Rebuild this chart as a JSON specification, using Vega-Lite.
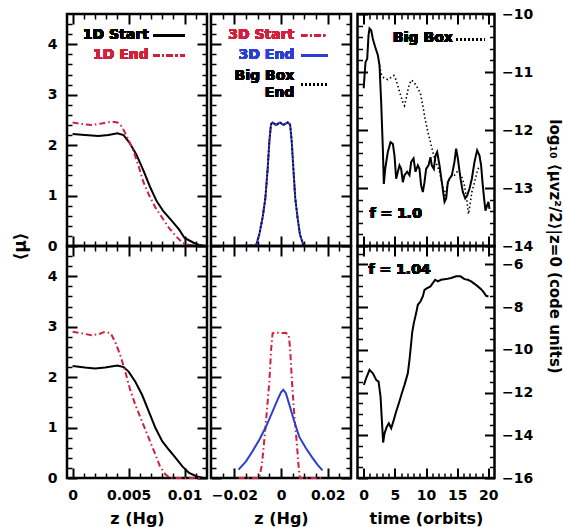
{
"$schema": "https://vega.github.io/schema/vega-lite/v6.json",
"padding": {"left": 9, "top": 5, "right": 5, "bottom": 5},
"background": "white",
"config": {
  "view": {"stroke": "black", "strokeWidth": 2.5},
  "axis": {"grid": false, "domain": false, "tickColor": "black", "tickWidth": 2, "labelColor": "black", "labelFont": "DejaVu Sans", "labelFontSize": 14, "labelFontWeight": "bold", "labelFlush": false, "labelOverlap": false, "titleFont": "DejaVu Sans", "titleFontSize": 16, "titleFontWeight": "bold", "titleColor": "black"},
  "text": {"font": "DejaVu Sans", "fontSize": 14, "fontWeight": "bold"}
},
"datasets": {"c": [
{"p":"TL","s":"1D Start","x":0,"y":2.22},{"p":"TL","s":"1D Start","x":0.0011,"y":2.2},{"p":"TL","s":"1D Start","x":0.0023,"y":2.18},{"p":"TL","s":"1D Start","x":0.0032,"y":2.2},{"p":"TL","s":"1D Start","x":0.004,"y":2.235},{"p":"TL","s":"1D Start","x":0.00455,"y":2.2},{"p":"TL","s":"1D Start","x":0.0051,"y":2.04},{"p":"TL","s":"1D Start","x":0.0057,"y":1.81},{"p":"TL","s":"1D Start","x":0.0063,"y":1.51},{"p":"TL","s":"1D Start","x":0.0069,"y":1.18},{"p":"TL","s":"1D Start","x":0.0075,"y":0.89},{"p":"TL","s":"1D Start","x":0.0081,"y":0.69},{"p":"TL","s":"1D Start","x":0.0089,"y":0.49},{"p":"TL","s":"1D Start","x":0.0095,"y":0.33},{"p":"TL","s":"1D Start","x":0.01,"y":0.16},{"p":"TL","s":"1D Start","x":0.0108,"y":0.065},{"p":"TL","s":"1D Start","x":0.0113,"y":0.02},{"p":"TL","s":"1D Start","x":0.0118,"y":0},
{"p":"TL","s":"1D End","x":0,"y":2.45},{"p":"TL","s":"1D End","x":0.0008,"y":2.42},{"p":"TL","s":"1D End","x":0.0017,"y":2.4},{"p":"TL","s":"1D End","x":0.0026,"y":2.43},{"p":"TL","s":"1D End","x":0.0035,"y":2.465},{"p":"TL","s":"1D End","x":0.004,"y":2.45},{"p":"TL","s":"1D End","x":0.0044,"y":2.37},{"p":"TL","s":"1D End","x":0.005,"y":2.1},{"p":"TL","s":"1D End","x":0.00545,"y":1.87},{"p":"TL","s":"1D End","x":0.0059,"y":1.58},{"p":"TL","s":"1D End","x":0.0063,"y":1.28},{"p":"TL","s":"1D End","x":0.0068,"y":1.02},{"p":"TL","s":"1D End","x":0.0074,"y":0.76},{"p":"TL","s":"1D End","x":0.008,"y":0.56},{"p":"TL","s":"1D End","x":0.0086,"y":0.36},{"p":"TL","s":"1D End","x":0.0092,"y":0.2},{"p":"TL","s":"1D End","x":0.0098,"y":0.065},{"p":"TL","s":"1D End","x":0.0104,"y":0.02},{"p":"TL","s":"1D End","x":0.0112,"y":0},{"p":"TL","s":"1D End","x":0.0118,"y":0},
{"p":"BL","s":"1D Start","x":0,"y":2.22},{"p":"BL","s":"1D Start","x":0.0011,"y":2.19},{"p":"BL","s":"1D Start","x":0.002,"y":2.17},{"p":"BL","s":"1D Start","x":0.0029,"y":2.19},{"p":"BL","s":"1D Start","x":0.004,"y":2.23},{"p":"BL","s":"1D Start","x":0.00455,"y":2.2},{"p":"BL","s":"1D Start","x":0.005,"y":2.11},{"p":"BL","s":"1D Start","x":0.0056,"y":1.91},{"p":"BL","s":"1D Start","x":0.0062,"y":1.65},{"p":"BL","s":"1D Start","x":0.0068,"y":1.32},{"p":"BL","s":"1D Start","x":0.0074,"y":0.99},{"p":"BL","s":"1D Start","x":0.008,"y":0.73},{"p":"BL","s":"1D Start","x":0.0086,"y":0.56},{"p":"BL","s":"1D Start","x":0.0092,"y":0.4},{"p":"BL","s":"1D Start","x":0.0098,"y":0.23},{"p":"BL","s":"1D Start","x":0.0104,"y":0.1},{"p":"BL","s":"1D Start","x":0.0111,"y":0.03},{"p":"BL","s":"1D Start","x":0.0117,"y":0},
{"p":"BL","s":"1D End","x":0,"y":2.9},{"p":"BL","s":"1D End","x":0.0008,"y":2.87},{"p":"BL","s":"1D End","x":0.0017,"y":2.83},{"p":"BL","s":"1D End","x":0.0023,"y":2.85},{"p":"BL","s":"1D End","x":0.0029,"y":2.9},{"p":"BL","s":"1D End","x":0.0034,"y":2.87},{"p":"BL","s":"1D End","x":0.0038,"y":2.7},{"p":"BL","s":"1D End","x":0.00425,"y":2.44},{"p":"BL","s":"1D End","x":0.0047,"y":2.11},{"p":"BL","s":"1D End","x":0.0051,"y":1.78},{"p":"BL","s":"1D End","x":0.0056,"y":1.45},{"p":"BL","s":"1D End","x":0.0062,"y":1.12},{"p":"BL","s":"1D End","x":0.0068,"y":0.79},{"p":"BL","s":"1D End","x":0.0074,"y":0.46},{"p":"BL","s":"1D End","x":0.0078,"y":0.23},{"p":"BL","s":"1D End","x":0.0083,"y":0.07},{"p":"BL","s":"1D End","x":0.0087,"y":0},{"p":"BL","s":"1D End","x":0.0115,"y":0},
{"p":"TM","s":"3D","x":-0.02,"y":0},{"p":"TM","s":"3D","x":-0.0107,"y":0.01},{"p":"TM","s":"3D","x":-0.0093,"y":0.23},{"p":"TM","s":"3D","x":-0.0079,"y":0.56},{"p":"TM","s":"3D","x":-0.0067,"y":0.95},{"p":"TM","s":"3D","x":-0.0057,"y":1.54},{"p":"TM","s":"3D","x":-0.005,"y":2.07},{"p":"TM","s":"3D","x":-0.0043,"y":2.41},{"p":"TM","s":"3D","x":-0.0036,"y":2.45},{"p":"TM","s":"3D","x":-0.0021,"y":2.4},{"p":"TM","s":"3D","x":-0.0004,"y":2.45},{"p":"TM","s":"3D","x":0.001,"y":2.4},{"p":"TM","s":"3D","x":0.0029,"y":2.45},{"p":"TM","s":"3D","x":0.0039,"y":2.41},{"p":"TM","s":"3D","x":0.0046,"y":2.07},{"p":"TM","s":"3D","x":0.0053,"y":1.54},{"p":"TM","s":"3D","x":0.0061,"y":0.95},{"p":"TM","s":"3D","x":0.0071,"y":0.56},{"p":"TM","s":"3D","x":0.0081,"y":0.23},{"p":"TM","s":"3D","x":0.0096,"y":0.02},{"p":"TM","s":"3D","x":0.0107,"y":0},{"p":"TM","s":"3D","x":0.0193,"y":0},
{"p":"BM","s":"3D Start","x":-0.0182,"y":0},{"p":"BM","s":"3D Start","x":-0.0093,"y":0},{"p":"BM","s":"3D Start","x":-0.0082,"y":0.26},{"p":"BM","s":"3D Start","x":-0.0072,"y":0.73},{"p":"BM","s":"3D Start","x":-0.0062,"y":1.25},{"p":"BM","s":"3D Start","x":-0.005,"y":1.91},{"p":"BM","s":"3D Start","x":-0.0042,"y":2.57},{"p":"BM","s":"3D Start","x":-0.0036,"y":2.87},{"p":"BM","s":"3D Start","x":-0.0021,"y":2.89},{"p":"BM","s":"3D Start","x":0,"y":2.87},{"p":"BM","s":"3D Start","x":0.0021,"y":2.88},{"p":"BM","s":"3D Start","x":0.0033,"y":2.83},{"p":"BM","s":"3D Start","x":0.0039,"y":2.57},{"p":"BM","s":"3D Start","x":0.0047,"y":1.91},{"p":"BM","s":"3D Start","x":0.0057,"y":1.25},{"p":"BM","s":"3D Start","x":0.0067,"y":0.73},{"p":"BM","s":"3D Start","x":0.0076,"y":0.2},{"p":"BM","s":"3D Start","x":0.0081,"y":0},{"p":"BM","s":"3D Start","x":0.0175,"y":0},
{"p":"BM","s":"3D End","x":-0.0182,"y":0.165},{"p":"BM","s":"3D End","x":-0.015,"y":0.33},{"p":"BM","s":"3D End","x":-0.0122,"y":0.53},{"p":"BM","s":"3D End","x":-0.0093,"y":0.76},{"p":"BM","s":"3D End","x":-0.0064,"y":1.02},{"p":"BM","s":"3D End","x":-0.0036,"y":1.32},{"p":"BM","s":"3D End","x":-0.0015,"y":1.55},{"p":"BM","s":"3D End","x":0,"y":1.7},{"p":"BM","s":"3D End","x":0.001,"y":1.75},{"p":"BM","s":"3D End","x":0.0021,"y":1.68},{"p":"BM","s":"3D End","x":0.0036,"y":1.45},{"p":"BM","s":"3D End","x":0.0057,"y":1.12},{"p":"BM","s":"3D End","x":0.0078,"y":0.82},{"p":"BM","s":"3D End","x":0.0107,"y":0.59},{"p":"BM","s":"3D End","x":0.0135,"y":0.4},{"p":"BM","s":"3D End","x":0.0157,"y":0.26},{"p":"BM","s":"3D End","x":0.0178,"y":0.15},
{"p":"TR","s":"Box","x":0,"y":-11.28},{"p":"TR","s":"Box","x":0.13,"y":-11.06},{"p":"TR","s":"Box","x":0.29,"y":-10.83},{"p":"TR","s":"Box","x":0.56,"y":-10.77},{"p":"TR","s":"Box","x":0.77,"y":-10.37},{"p":"TR","s":"Box","x":0.93,"y":-10.25},{"p":"TR","s":"Box","x":1.2,"y":-10.28},{"p":"TR","s":"Box","x":1.47,"y":-10.43},{"p":"TR","s":"Box","x":1.84,"y":-10.57},{"p":"TR","s":"Box","x":2.27,"y":-10.71},{"p":"TR","s":"Box","x":2.54,"y":-10.89},{"p":"TR","s":"Box","x":2.8,"y":-11.52},{"p":"TR","s":"Box","x":3.07,"y":-12.32},{"p":"TR","s":"Box","x":3.23,"y":-12.93},{"p":"TR","s":"Box","x":3.45,"y":-12.67},{"p":"TR","s":"Box","x":3.87,"y":-12.38},{"p":"TR","s":"Box","x":4.3,"y":-12.21},{"p":"TR","s":"Box","x":4.68,"y":-12.24},{"p":"TR","s":"Box","x":4.94,"y":-12.44},{"p":"TR","s":"Box","x":5.21,"y":-12.84},{"p":"TR","s":"Box","x":5.48,"y":-12.72},{"p":"TR","s":"Box","x":5.74,"y":-12.61},{"p":"TR","s":"Box","x":6.01,"y":-12.67},{"p":"TR","s":"Box","x":6.28,"y":-12.9},{"p":"TR","s":"Box","x":6.55,"y":-12.78},{"p":"TR","s":"Box","x":6.98,"y":-12.72},{"p":"TR","s":"Box","x":7.35,"y":-12.78},{"p":"TR","s":"Box","x":7.62,"y":-12.55},{"p":"TR","s":"Box","x":8.0,"y":-12.49},{"p":"TR","s":"Box","x":8.31,"y":-12.72},{"p":"TR","s":"Box","x":8.69,"y":-12.61},{"p":"TR","s":"Box","x":8.95,"y":-12.67},{"p":"TR","s":"Box","x":9.22,"y":-12.96},{"p":"TR","s":"Box","x":9.49,"y":-13.07},{"p":"TR","s":"Box","x":9.76,"y":-12.9},{"p":"TR","s":"Box","x":10.02,"y":-12.67},{"p":"TR","s":"Box","x":10.4,"y":-12.61},{"p":"TR","s":"Box","x":10.72,"y":-12.47},{"p":"TR","s":"Box","x":10.93,"y":-12.61},{"p":"TR","s":"Box","x":11.26,"y":-12.67},{"p":"TR","s":"Box","x":11.52,"y":-12.44},{"p":"TR","s":"Box","x":11.79,"y":-12.38},{"p":"TR","s":"Box","x":12.17,"y":-12.61},{"p":"TR","s":"Box","x":12.54,"y":-12.9},{"p":"TR","s":"Box","x":12.97,"y":-13.24},{"p":"TR","s":"Box","x":13.24,"y":-13.18},{"p":"TR","s":"Box","x":13.5,"y":-12.9},{"p":"TR","s":"Box","x":13.77,"y":-12.84},{"p":"TR","s":"Box","x":14.15,"y":-12.78},{"p":"TR","s":"Box","x":14.57,"y":-12.55},{"p":"TR","s":"Box","x":14.84,"y":-12.32},{"p":"TR","s":"Box","x":15.11,"y":-12.49},{"p":"TR","s":"Box","x":15.54,"y":-12.84},{"p":"TR","s":"Box","x":15.92,"y":-13.07},{"p":"TR","s":"Box","x":16.29,"y":-13.18},{"p":"TR","s":"Box","x":16.61,"y":-13.13},{"p":"TR","s":"Box","x":16.99,"y":-13.01},{"p":"TR","s":"Box","x":17.36,"y":-12.84},{"p":"TR","s":"Box","x":17.79,"y":-12.55},{"p":"TR","s":"Box","x":18.21,"y":-12.35},{"p":"TR","s":"Box","x":18.59,"y":-12.44},{"p":"TR","s":"Box","x":18.85,"y":-12.61},{"p":"TR","s":"Box","x":19.12,"y":-12.96},{"p":"TR","s":"Box","x":19.39,"y":-13.24},{"p":"TR","s":"Box","x":19.55,"y":-13.39},{"p":"TR","s":"Box","x":19.82,"y":-13.3},{"p":"TR","s":"Box","x":20.03,"y":-13.24},{"p":"TR","s":"Box","x":20.19,"y":-13.36},
{"p":"TR","s":"Big Box","x":2.54,"y":-10.89},{"p":"TR","s":"Big Box","x":2.8,"y":-11.03},{"p":"TR","s":"Big Box","x":3.23,"y":-11.1},{"p":"TR","s":"Big Box","x":3.87,"y":-11.13},{"p":"TR","s":"Big Box","x":4.41,"y":-11.09},{"p":"TR","s":"Big Box","x":4.83,"y":-11.06},{"p":"TR","s":"Big Box","x":5.21,"y":-11.14},{"p":"TR","s":"Big Box","x":5.74,"y":-11.34},{"p":"TR","s":"Big Box","x":6.28,"y":-11.52},{"p":"TR","s":"Big Box","x":6.55,"y":-11.58},{"p":"TR","s":"Big Box","x":6.81,"y":-11.46},{"p":"TR","s":"Big Box","x":7.19,"y":-11.26},{"p":"TR","s":"Big Box","x":7.62,"y":-11.14},{"p":"TR","s":"Big Box","x":8.04,"y":-11.17},{"p":"TR","s":"Big Box","x":8.58,"y":-11.26},{"p":"TR","s":"Big Box","x":9.11,"y":-11.37},{"p":"TR","s":"Big Box","x":9.49,"y":-11.58},{"p":"TR","s":"Big Box","x":9.86,"y":-11.81},{"p":"TR","s":"Big Box","x":10.29,"y":-12.03},{"p":"TR","s":"Big Box","x":10.72,"y":-12.21},{"p":"TR","s":"Big Box","x":11.09,"y":-12.38},{"p":"TR","s":"Big Box","x":11.36,"y":-12.49},{"p":"TR","s":"Big Box","x":11.79,"y":-12.61},{"p":"TR","s":"Big Box","x":12.17,"y":-12.72},{"p":"TR","s":"Big Box","x":12.54,"y":-12.9},{"p":"TR","s":"Big Box","x":12.86,"y":-13.04},{"p":"TR","s":"Big Box","x":13.07,"y":-13.16},{"p":"TR","s":"Big Box","x":13.39,"y":-12.96},{"p":"TR","s":"Big Box","x":13.77,"y":-12.84},{"p":"TR","s":"Big Box","x":14.15,"y":-12.78},{"p":"TR","s":"Big Box","x":14.57,"y":-12.78},{"p":"TR","s":"Big Box","x":15.0,"y":-12.72},{"p":"TR","s":"Big Box","x":15.37,"y":-12.75},{"p":"TR","s":"Big Box","x":15.75,"y":-12.81},{"p":"TR","s":"Big Box","x":16.18,"y":-12.96},{"p":"TR","s":"Big Box","x":16.56,"y":-13.21},{"p":"TR","s":"Big Box","x":16.82,"y":-13.45},{"p":"TR","s":"Big Box","x":17.09,"y":-13.27},{"p":"TR","s":"Big Box","x":17.36,"y":-13.07},{"p":"TR","s":"Big Box","x":17.79,"y":-12.9},{"p":"TR","s":"Big Box","x":18.21,"y":-12.72},{"p":"TR","s":"Big Box","x":18.48,"y":-12.64},
{"p":"BR","s":"Box","x":0.02,"y":-11.64},{"p":"BR","s":"Box","x":0.39,"y":-11.33},{"p":"BR","s":"Box","x":0.93,"y":-10.94},{"p":"BR","s":"Box","x":1.47,"y":-11.1},{"p":"BR","s":"Box","x":2.0,"y":-11.41},{"p":"BR","s":"Box","x":2.38,"y":-11.49},{"p":"BR","s":"Box","x":2.7,"y":-12.19},{"p":"BR","s":"Box","x":2.91,"y":-13.28},{"p":"BR","s":"Box","x":3.12,"y":-14.34},{"p":"BR","s":"Box","x":3.34,"y":-13.91},{"p":"BR","s":"Box","x":3.71,"y":-13.6},{"p":"BR","s":"Box","x":4.03,"y":-13.44},{"p":"BR","s":"Box","x":4.41,"y":-13.67},{"p":"BR","s":"Box","x":4.83,"y":-13.28},{"p":"BR","s":"Box","x":5.21,"y":-12.89},{"p":"BR","s":"Box","x":5.64,"y":-12.5},{"p":"BR","s":"Box","x":6.12,"y":-12.03},{"p":"BR","s":"Box","x":6.55,"y":-11.64},{"p":"BR","s":"Box","x":7.08,"y":-11.1},{"p":"BR","s":"Box","x":7.35,"y":-10.47},{"p":"BR","s":"Box","x":7.62,"y":-9.69},{"p":"BR","s":"Box","x":7.78,"y":-9.19},{"p":"BR","s":"Box","x":8.04,"y":-8.75},{"p":"BR","s":"Box","x":8.42,"y":-8.28},{"p":"BR","s":"Box","x":8.69,"y":-7.89},{"p":"BR","s":"Box","x":9.11,"y":-7.74},{"p":"BR","s":"Box","x":9.49,"y":-7.5},{"p":"BR","s":"Box","x":9.76,"y":-7.19},{"p":"BR","s":"Box","x":10.19,"y":-7.11},{"p":"BR","s":"Box","x":10.72,"y":-7.03},{"p":"BR","s":"Box","x":11.09,"y":-6.88},{"p":"BR","s":"Box","x":11.47,"y":-6.72},{"p":"BR","s":"Box","x":11.9,"y":-6.8},{"p":"BR","s":"Box","x":12.43,"y":-6.72},{"p":"BR","s":"Box","x":13.23,"y":-6.69},{"p":"BR","s":"Box","x":14.04,"y":-6.64},{"p":"BR","s":"Box","x":14.84,"y":-6.56},{"p":"BR","s":"Box","x":15.54,"y":-6.56},{"p":"BR","s":"Box","x":16.18,"y":-6.69},{"p":"BR","s":"Box","x":16.72,"y":-6.72},{"p":"BR","s":"Box","x":17.25,"y":-6.8},{"p":"BR","s":"Box","x":17.79,"y":-6.91},{"p":"BR","s":"Box","x":18.32,"y":-7.03},{"p":"BR","s":"Box","x":18.85,"y":-7.16},{"p":"BR","s":"Box","x":19.28,"y":-7.31},{"p":"BR","s":"Box","x":19.66,"y":-7.47},{"p":"BR","s":"Box","x":20.03,"y":-7.5}
]},
"spacing": 0.5,
"bounds": "full",
"hconcat": [
{"spacing": -4.5, "bounds": "full", "hconcat": [
{"spacing": 0, "bounds": "flush", "vconcat": [
{"width": 140, "height": 232, "data": {"name": "c"}, "transform": [{"filter": "datum.p == 'TL'"}],
 "resolve": {"axis": {"x": "independent", "y": "independent"}},
 "layer": [
  {"mark": {"type": "point", "opacity": 0}, "encoding": {
    "x": {"field": "x", "type": "quantitative", "scale": {"domain": [-0.0005, 0.012], "nice": false, "zero": false}, "axis": {"orient": "bottom", "values": [0, 0.005, 0.01], "tickSize": -10, "labels": false, "title": null}},
    "y": {"field": "y", "type": "quantitative", "scale": {"domain": [0, 4.6], "nice": false, "zero": false}, "axis": {"orient": "left", "values": [0, 1, 2, 3, 4], "tickSize": -10, "labelPadding": 20, "format": "~g", "title": "⟨μ⟩", "titleX": -47, "titleY": 232, "titleAngle": -90, "titleAlign": "center", "titleBaseline": "middle", "titleFontSize": 17}}}},
  {"mark": {"type": "point", "opacity": 0}, "encoding": {
    "x": {"field": "x", "type": "quantitative", "scale": {"domain": [-0.0005, 0.012], "nice": false, "zero": false}, "axis": {"orient": "bottom", "values": [0.001, 0.002, 0.003, 0.004, 0.006, 0.007, 0.008, 0.009, 0.011], "tickSize": -5, "tickWidth": 1.5, "labels": false, "title": null}},
    "y": {"field": "y", "type": "quantitative", "scale": {"domain": [0, 4.6], "nice": false, "zero": false}, "axis": {"orient": "left", "values": [0.2, 0.4, 0.6, 0.8, 1.2, 1.4, 1.6, 1.8, 2.2, 2.4, 2.6, 2.8, 3.2, 3.4, 3.6, 3.8, 4.2, 4.4], "tickSize": -5, "tickWidth": 1.5, "labels": false, "title": null}}}},
  {"mark": {"type": "point", "opacity": 0}, "encoding": {
    "x": {"field": "x", "type": "quantitative", "scale": {"domain": [-0.0005, 0.012], "nice": false, "zero": false}, "axis": {"orient": "top", "values": [0, 0.005, 0.01], "tickSize": -10, "labels": false, "title": null}},
    "y": {"field": "y", "type": "quantitative", "scale": {"domain": [0, 4.6], "nice": false, "zero": false}, "axis": {"orient": "right", "values": [0, 1, 2, 3, 4], "tickSize": -10, "labels": false, "title": null}}}},
  {"mark": {"type": "point", "opacity": 0}, "encoding": {
    "x": {"field": "x", "type": "quantitative", "scale": {"domain": [-0.0005, 0.012], "nice": false, "zero": false}, "axis": {"orient": "top", "values": [0.001, 0.002, 0.003, 0.004, 0.006, 0.007, 0.008, 0.009, 0.011], "tickSize": -5, "tickWidth": 1.5, "labels": false, "title": null}},
    "y": {"field": "y", "type": "quantitative", "scale": {"domain": [0, 4.6], "nice": false, "zero": false}, "axis": {"orient": "right", "values": [0.2, 0.4, 0.6, 0.8, 1.2, 1.4, 1.6, 1.8, 2.2, 2.4, 2.6, 2.8, 3.2, 3.4, 3.6, 3.8, 4.2, 4.4], "tickSize": -5, "tickWidth": 1.5, "labels": false, "title": null}}}},
  {"transform": [{"filter": "datum.s == '1D Start'"}], "mark": {"type": "line", "color": "black", "strokeWidth": 2},
   "encoding": {"x": {"field": "x", "type": "quantitative", "scale": {"domain": [-0.0005, 0.012], "nice": false, "zero": false}, "axis": null}, "y": {"field": "y", "type": "quantitative", "scale": {"domain": [0, 4.6], "nice": false, "zero": false}, "axis": null}}},
  {"transform": [{"filter": "datum.s == '1D End'"}], "mark": {"type": "line", "color": "#d21f3c", "strokeWidth": 2, "strokeDash": [6, 3, 1.5, 3]},
   "encoding": {"x": {"field": "x", "type": "quantitative", "scale": {"domain": [-0.0005, 0.012], "nice": false, "zero": false}, "axis": null}, "y": {"field": "y", "type": "quantitative", "scale": {"domain": [0, 4.6], "nice": false, "zero": false}, "axis": null}}},
  {"mark": {"type": "text", "align": "right", "baseline": "middle", "color": "black", "text": "1D Start"},
   "encoding": {"x": {"datum": 0.0068, "type": "quantitative", "scale": {"domain": [-0.0005, 0.012], "nice": false, "zero": false}, "axis": null}, "y": {"datum": 4.18, "type": "quantitative", "scale": {"domain": [0, 4.6], "nice": false, "zero": false}, "axis": null}}},
  {"mark": {"type": "rule", "color": "black", "strokeWidth": 2},
   "encoding": {"x": {"datum": 0.0072, "type": "quantitative", "scale": {"domain": [-0.0005, 0.012], "nice": false, "zero": false}, "axis": null}, "x2": {"datum": 0.01}, "y": {"datum": 4.18, "type": "quantitative", "scale": {"domain": [0, 4.6], "nice": false, "zero": false}, "axis": null}}},
  {"mark": {"type": "text", "align": "right", "baseline": "middle", "color": "#d21f3c", "text": "1D End"},
   "encoding": {"x": {"datum": 0.0068, "type": "quantitative", "scale": {"domain": [-0.0005, 0.012], "nice": false, "zero": false}, "axis": null}, "y": {"datum": 3.78, "type": "quantitative", "scale": {"domain": [0, 4.6], "nice": false, "zero": false}, "axis": null}}},
  {"mark": {"type": "rule", "color": "#d21f3c", "strokeWidth": 2, "strokeDash": [6, 3, 1.5, 3]},
   "encoding": {"x": {"datum": 0.0072, "type": "quantitative", "scale": {"domain": [-0.0005, 0.012], "nice": false, "zero": false}, "axis": null}, "x2": {"datum": 0.01}, "y": {"datum": 3.78, "type": "quantitative", "scale": {"domain": [0, 4.6], "nice": false, "zero": false}, "axis": null}}}
 ]},
{"width": 140, "height": 232, "data": {"name": "c"}, "transform": [{"filter": "datum.p == 'BL'"}],
 "resolve": {"axis": {"x": "independent", "y": "independent"}},
 "layer": [
  {"mark": {"type": "point", "opacity": 0}, "encoding": {
    "x": {"field": "x", "type": "quantitative", "scale": {"domain": [-0.0005, 0.012], "nice": false, "zero": false}, "axis": {"orient": "bottom", "values": [0, 0.005, 0.01], "tickSize": -10, "labelPadding": 20, "format": "~g", "title": "z (Hg)", "titleY": 40, "titleBaseline": "middle"}},
    "y": {"field": "y", "type": "quantitative", "scale": {"domain": [0, 4.6], "nice": false, "zero": false}, "axis": {"orient": "left", "values": [0, 1, 2, 3, 4], "tickSize": -10, "labelPadding": 20, "format": "~g", "title": null}}}},
  {"mark": {"type": "point", "opacity": 0}, "encoding": {
    "x": {"field": "x", "type": "quantitative", "scale": {"domain": [-0.0005, 0.012], "nice": false, "zero": false}, "axis": {"orient": "bottom", "values": [0.001, 0.002, 0.003, 0.004, 0.006, 0.007, 0.008, 0.009, 0.011], "tickSize": -5, "tickWidth": 1.5, "labels": false, "title": null}},
    "y": {"field": "y", "type": "quantitative", "scale": {"domain": [0, 4.6], "nice": false, "zero": false}, "axis": {"orient": "left", "values": [0.2, 0.4, 0.6, 0.8, 1.2, 1.4, 1.6, 1.8, 2.2, 2.4, 2.6, 2.8, 3.2, 3.4, 3.6, 3.8, 4.2, 4.4], "tickSize": -5, "tickWidth": 1.5, "labels": false, "title": null}}}},
  {"mark": {"type": "point", "opacity": 0}, "encoding": {
    "x": {"field": "x", "type": "quantitative", "scale": {"domain": [-0.0005, 0.012], "nice": false, "zero": false}, "axis": {"orient": "top", "values": [0, 0.005, 0.01], "tickSize": -10, "labels": false, "title": null}},
    "y": {"field": "y", "type": "quantitative", "scale": {"domain": [0, 4.6], "nice": false, "zero": false}, "axis": {"orient": "right", "values": [0, 1, 2, 3, 4], "tickSize": -10, "labels": false, "title": null}}}},
  {"mark": {"type": "point", "opacity": 0}, "encoding": {
    "x": {"field": "x", "type": "quantitative", "scale": {"domain": [-0.0005, 0.012], "nice": false, "zero": false}, "axis": {"orient": "top", "values": [0.001, 0.002, 0.003, 0.004, 0.006, 0.007, 0.008, 0.009, 0.011], "tickSize": -5, "tickWidth": 1.5, "labels": false, "title": null}},
    "y": {"field": "y", "type": "quantitative", "scale": {"domain": [0, 4.6], "nice": false, "zero": false}, "axis": {"orient": "right", "values": [0.2, 0.4, 0.6, 0.8, 1.2, 1.4, 1.6, 1.8, 2.2, 2.4, 2.6, 2.8, 3.2, 3.4, 3.6, 3.8, 4.2, 4.4], "tickSize": -5, "tickWidth": 1.5, "labels": false, "title": null}}}},
  {"transform": [{"filter": "datum.s == '1D Start'"}], "mark": {"type": "line", "color": "black", "strokeWidth": 2},
   "encoding": {"x": {"field": "x", "type": "quantitative", "scale": {"domain": [-0.0005, 0.012], "nice": false, "zero": false}, "axis": null}, "y": {"field": "y", "type": "quantitative", "scale": {"domain": [0, 4.6], "nice": false, "zero": false}, "axis": null}}},
  {"transform": [{"filter": "datum.s == '1D End'"}], "mark": {"type": "line", "color": "#d21f3c", "strokeWidth": 2, "strokeDash": [6, 3, 1.5, 3]},
   "encoding": {"x": {"field": "x", "type": "quantitative", "scale": {"domain": [-0.0005, 0.012], "nice": false, "zero": false}, "axis": null}, "y": {"field": "y", "type": "quantitative", "scale": {"domain": [0, 4.6], "nice": false, "zero": false}, "axis": null}}}
 ]}
]},
{"spacing": 0, "bounds": "flush", "vconcat": [
{"width": 140, "height": 232, "data": {"name": "c"}, "transform": [{"filter": "datum.p == 'TM'"}],
 "resolve": {"axis": {"x": "independent", "y": "independent"}},
 "layer": [
  {"mark": {"type": "point", "opacity": 0}, "encoding": {
    "x": {"field": "x", "type": "quantitative", "scale": {"domain": [-0.03, 0.03], "nice": false, "zero": false}, "axis": {"orient": "bottom", "values": [-0.02, 0, 0.02], "tickSize": -10, "labels": false, "title": null}},
    "y": {"field": "y", "type": "quantitative", "scale": {"domain": [0, 4.6], "nice": false, "zero": false}, "axis": {"orient": "left", "values": [0, 1, 2, 3, 4], "tickSize": -10, "labels": false, "title": null}}}},
  {"mark": {"type": "point", "opacity": 0}, "encoding": {
    "x": {"field": "x", "type": "quantitative", "scale": {"domain": [-0.03, 0.03], "nice": false, "zero": false}, "axis": {"orient": "bottom", "values": [-0.025, -0.015, -0.01, -0.005, 0.005, 0.01, 0.015, 0.025], "tickSize": -5, "tickWidth": 1.5, "labels": false, "title": null}},
    "y": {"field": "y", "type": "quantitative", "scale": {"domain": [0, 4.6], "nice": false, "zero": false}, "axis": {"orient": "left", "values": [0.2, 0.4, 0.6, 0.8, 1.2, 1.4, 1.6, 1.8, 2.2, 2.4, 2.6, 2.8, 3.2, 3.4, 3.6, 3.8, 4.2, 4.4], "tickSize": -5, "tickWidth": 1.5, "labels": false, "title": null}}}},
  {"mark": {"type": "point", "opacity": 0}, "encoding": {
    "x": {"field": "x", "type": "quantitative", "scale": {"domain": [-0.03, 0.03], "nice": false, "zero": false}, "axis": {"orient": "top", "values": [-0.02, 0, 0.02], "tickSize": -10, "labels": false, "title": null}},
    "y": {"field": "y", "type": "quantitative", "scale": {"domain": [0, 4.6], "nice": false, "zero": false}, "axis": {"orient": "right", "values": [0, 1, 2, 3, 4], "tickSize": -10, "labels": false, "title": null}}}},
  {"mark": {"type": "point", "opacity": 0}, "encoding": {
    "x": {"field": "x", "type": "quantitative", "scale": {"domain": [-0.03, 0.03], "nice": false, "zero": false}, "axis": {"orient": "top", "values": [-0.025, -0.015, -0.01, -0.005, 0.005, 0.01, 0.015, 0.025], "tickSize": -5, "tickWidth": 1.5, "labels": false, "title": null}},
    "y": {"field": "y", "type": "quantitative", "scale": {"domain": [0, 4.6], "nice": false, "zero": false}, "axis": {"orient": "right", "values": [0.2, 0.4, 0.6, 0.8, 1.2, 1.4, 1.6, 1.8, 2.2, 2.4, 2.6, 2.8, 3.2, 3.4, 3.6, 3.8, 4.2, 4.4], "tickSize": -5, "tickWidth": 1.5, "labels": false, "title": null}}}},
  {"mark": {"type": "line", "color": "#d21f3c", "strokeWidth": 2, "strokeDash": [6, 3, 1.5, 3]},
   "encoding": {"x": {"field": "x", "type": "quantitative", "scale": {"domain": [-0.03, 0.03], "nice": false, "zero": false}, "axis": null}, "y": {"field": "y", "type": "quantitative", "scale": {"domain": [0, 4.6], "nice": false, "zero": false}, "axis": null}}},
  {"mark": {"type": "line", "color": "#2b3fd1", "strokeWidth": 2},
   "encoding": {"x": {"field": "x", "type": "quantitative", "scale": {"domain": [-0.03, 0.03], "nice": false, "zero": false}, "axis": null}, "y": {"field": "y", "type": "quantitative", "scale": {"domain": [0, 4.6], "nice": false, "zero": false}, "axis": null}}},
  {"mark": {"type": "line", "color": "black", "strokeWidth": 1.6, "strokeDash": [1.5, 2.5]},
   "encoding": {"x": {"field": "x", "type": "quantitative", "scale": {"domain": [-0.03, 0.03], "nice": false, "zero": false}, "axis": null}, "y": {"field": "y", "type": "quantitative", "scale": {"domain": [0, 4.6], "nice": false, "zero": false}, "axis": null}}},
  {"mark": {"type": "text", "align": "right", "baseline": "middle", "color": "#d21f3c", "text": "3D Start"},
   "encoding": {"x": {"datum": 0.0057, "type": "quantitative", "scale": {"domain": [-0.03, 0.03], "nice": false, "zero": false}, "axis": null}, "y": {"datum": 4.18, "type": "quantitative", "scale": {"domain": [0, 4.6], "nice": false, "zero": false}, "axis": null}}},
  {"mark": {"type": "rule", "color": "#d21f3c", "strokeWidth": 2, "strokeDash": [6, 3, 1.5, 3]},
   "encoding": {"x": {"datum": 0.0086, "type": "quantitative", "scale": {"domain": [-0.03, 0.03], "nice": false, "zero": false}, "axis": null}, "x2": {"datum": 0.02}, "y": {"datum": 4.18, "type": "quantitative", "scale": {"domain": [0, 4.6], "nice": false, "zero": false}, "axis": null}}},
  {"mark": {"type": "text", "align": "right", "baseline": "middle", "color": "#2b3fd1", "text": "3D End"},
   "encoding": {"x": {"datum": 0.0057, "type": "quantitative", "scale": {"domain": [-0.03, 0.03], "nice": false, "zero": false}, "axis": null}, "y": {"datum": 3.78, "type": "quantitative", "scale": {"domain": [0, 4.6], "nice": false, "zero": false}, "axis": null}}},
  {"mark": {"type": "rule", "color": "#2b3fd1", "strokeWidth": 2},
   "encoding": {"x": {"datum": 0.0086, "type": "quantitative", "scale": {"domain": [-0.03, 0.03], "nice": false, "zero": false}, "axis": null}, "x2": {"datum": 0.02}, "y": {"datum": 3.78, "type": "quantitative", "scale": {"domain": [0, 4.6], "nice": false, "zero": false}, "axis": null}}},
  {"mark": {"type": "text", "align": "right", "baseline": "middle", "color": "black", "text": "Big Box"},
   "encoding": {"x": {"datum": 0.0057, "type": "quantitative", "scale": {"domain": [-0.03, 0.03], "nice": false, "zero": false}, "axis": null}, "y": {"datum": 3.37, "type": "quantitative", "scale": {"domain": [0, 4.6], "nice": false, "zero": false}, "axis": null}}},
  {"mark": {"type": "text", "align": "right", "baseline": "middle", "color": "black", "text": "End"},
   "encoding": {"x": {"datum": 0.0057, "type": "quantitative", "scale": {"domain": [-0.03, 0.03], "nice": false, "zero": false}, "axis": null}, "y": {"datum": 3.04, "type": "quantitative", "scale": {"domain": [0, 4.6], "nice": false, "zero": false}, "axis": null}}},
  {"mark": {"type": "rule", "color": "black", "strokeWidth": 1.6, "strokeDash": [1.5, 2.5]},
   "encoding": {"x": {"datum": 0.0086, "type": "quantitative", "scale": {"domain": [-0.03, 0.03], "nice": false, "zero": false}, "axis": null}, "x2": {"datum": 0.02}, "y": {"datum": 3.2, "type": "quantitative", "scale": {"domain": [0, 4.6], "nice": false, "zero": false}, "axis": null}}}
 ]},
{"width": 140, "height": 232, "data": {"name": "c"}, "transform": [{"filter": "datum.p == 'BM'"}],
 "resolve": {"axis": {"x": "independent", "y": "independent"}},
 "layer": [
  {"mark": {"type": "point", "opacity": 0}, "encoding": {
    "x": {"field": "x", "type": "quantitative", "scale": {"domain": [-0.03, 0.03], "nice": false, "zero": false}, "axis": {"orient": "bottom", "values": [-0.02, 0, 0.02], "tickSize": -10, "labelPadding": 20, "format": "~g", "title": "z (Hg)", "titleY": 40, "titleBaseline": "middle"}},
    "y": {"field": "y", "type": "quantitative", "scale": {"domain": [0, 4.6], "nice": false, "zero": false}, "axis": {"orient": "left", "values": [0, 1, 2, 3, 4], "tickSize": -10, "labels": false, "title": null}}}},
  {"mark": {"type": "point", "opacity": 0}, "encoding": {
    "x": {"field": "x", "type": "quantitative", "scale": {"domain": [-0.03, 0.03], "nice": false, "zero": false}, "axis": {"orient": "bottom", "values": [-0.025, -0.015, -0.01, -0.005, 0.005, 0.01, 0.015, 0.025], "tickSize": -5, "tickWidth": 1.5, "labels": false, "title": null}},
    "y": {"field": "y", "type": "quantitative", "scale": {"domain": [0, 4.6], "nice": false, "zero": false}, "axis": {"orient": "left", "values": [0.2, 0.4, 0.6, 0.8, 1.2, 1.4, 1.6, 1.8, 2.2, 2.4, 2.6, 2.8, 3.2, 3.4, 3.6, 3.8, 4.2, 4.4], "tickSize": -5, "tickWidth": 1.5, "labels": false, "title": null}}}},
  {"mark": {"type": "point", "opacity": 0}, "encoding": {
    "x": {"field": "x", "type": "quantitative", "scale": {"domain": [-0.03, 0.03], "nice": false, "zero": false}, "axis": {"orient": "top", "values": [-0.02, 0, 0.02], "tickSize": -10, "labels": false, "title": null}},
    "y": {"field": "y", "type": "quantitative", "scale": {"domain": [0, 4.6], "nice": false, "zero": false}, "axis": {"orient": "right", "values": [0, 1, 2, 3, 4], "tickSize": -10, "labels": false, "title": null}}}},
  {"mark": {"type": "point", "opacity": 0}, "encoding": {
    "x": {"field": "x", "type": "quantitative", "scale": {"domain": [-0.03, 0.03], "nice": false, "zero": false}, "axis": {"orient": "top", "values": [-0.025, -0.015, -0.01, -0.005, 0.005, 0.01, 0.015, 0.025], "tickSize": -5, "tickWidth": 1.5, "labels": false, "title": null}},
    "y": {"field": "y", "type": "quantitative", "scale": {"domain": [0, 4.6], "nice": false, "zero": false}, "axis": {"orient": "right", "values": [0.2, 0.4, 0.6, 0.8, 1.2, 1.4, 1.6, 1.8, 2.2, 2.4, 2.6, 2.8, 3.2, 3.4, 3.6, 3.8, 4.2, 4.4], "tickSize": -5, "tickWidth": 1.5, "labels": false, "title": null}}}},
  {"transform": [{"filter": "datum.s == '3D Start'"}], "mark": {"type": "line", "color": "#d21f3c", "strokeWidth": 2, "strokeDash": [6, 3, 1.5, 3]},
   "encoding": {"x": {"field": "x", "type": "quantitative", "scale": {"domain": [-0.03, 0.03], "nice": false, "zero": false}, "axis": null}, "y": {"field": "y", "type": "quantitative", "scale": {"domain": [0, 4.6], "nice": false, "zero": false}, "axis": null}}},
  {"transform": [{"filter": "datum.s == '3D End'"}], "mark": {"type": "line", "color": "#2b3fd1", "strokeWidth": 2},
   "encoding": {"x": {"field": "x", "type": "quantitative", "scale": {"domain": [-0.03, 0.03], "nice": false, "zero": false}, "axis": null}, "y": {"field": "y", "type": "quantitative", "scale": {"domain": [0, 4.6], "nice": false, "zero": false}, "axis": null}}}
 ]}
]}
]},
{"spacing": 0, "bounds": "flush", "vconcat": [
{"width": 137, "height": 232, "data": {"name": "c"}, "transform": [{"filter": "datum.p == 'TR'"}],
 "resolve": {"axis": {"x": "independent", "y": "independent"}},
 "layer": [
  {"mark": {"type": "point", "opacity": 0}, "encoding": {
    "x": {"field": "x", "type": "quantitative", "scale": {"domain": [-1, 21], "nice": false, "zero": false}, "axis": {"orient": "bottom", "values": [0, 5, 10, 15, 20], "tickSize": -10, "labels": false, "title": null}},
    "y": {"field": "y", "type": "quantitative", "scale": {"domain": [-14, -10], "nice": false, "zero": false}, "axis": {"orient": "left", "values": [-14, -13, -12, -11, -10], "tickSize": -10, "labels": false, "title": null}}}},
  {"mark": {"type": "point", "opacity": 0}, "encoding": {
    "x": {"field": "x", "type": "quantitative", "scale": {"domain": [-1, 21], "nice": false, "zero": false}, "axis": {"orient": "bottom", "values": [1, 2, 3, 4, 6, 7, 8, 9, 11, 12, 13, 14, 16, 17, 18, 19], "tickSize": -5, "tickWidth": 1.5, "labels": false, "title": null}},
    "y": {"field": "y", "type": "quantitative", "scale": {"domain": [-14, -10], "nice": false, "zero": false}, "axis": {"orient": "left", "values": [-13.8, -13.6, -13.4, -13.2, -12.8, -12.6, -12.4, -12.2, -11.8, -11.6, -11.4, -11.2, -10.8, -10.6, -10.4, -10.2], "tickSize": -5, "tickWidth": 1.5, "labels": false, "title": null}}}},
  {"mark": {"type": "point", "opacity": 0}, "encoding": {
    "x": {"field": "x", "type": "quantitative", "scale": {"domain": [-1, 21], "nice": false, "zero": false}, "axis": {"orient": "top", "values": [0, 5, 10, 15, 20], "tickSize": -10, "labels": false, "title": null}},
    "y": {"field": "y", "type": "quantitative", "scale": {"domain": [-14, -10], "nice": false, "zero": false}, "axis": {"orient": "right", "values": [-14, -13, -12, -11, -10], "tickSize": -10, "labelPadding": 17, "format": "~g", "title": "log₁₀ ⟨μvz²/2⟩|z=0 (code units)", "titleX": 60, "titleY": 232, "titleAngle": 90, "titleAlign": "center", "titleBaseline": "middle", "titleFontSize": 15}}}},
  {"mark": {"type": "point", "opacity": 0}, "encoding": {
    "x": {"field": "x", "type": "quantitative", "scale": {"domain": [-1, 21], "nice": false, "zero": false}, "axis": {"orient": "top", "values": [1, 2, 3, 4, 6, 7, 8, 9, 11, 12, 13, 14, 16, 17, 18, 19], "tickSize": -5, "tickWidth": 1.5, "labels": false, "title": null}},
    "y": {"field": "y", "type": "quantitative", "scale": {"domain": [-14, -10], "nice": false, "zero": false}, "axis": {"orient": "right", "values": [-13.8, -13.6, -13.4, -13.2, -12.8, -12.6, -12.4, -12.2, -11.8, -11.6, -11.4, -11.2, -10.8, -10.6, -10.4, -10.2], "tickSize": -5, "tickWidth": 1.5, "labels": false, "title": null}}}},
  {"transform": [{"filter": "datum.s == 'Big Box'"}], "mark": {"type": "line", "color": "black", "strokeWidth": 1.6, "strokeDash": [1.5, 2.5]},
   "encoding": {"x": {"field": "x", "type": "quantitative", "scale": {"domain": [-1, 21], "nice": false, "zero": false}, "axis": null}, "y": {"field": "y", "type": "quantitative", "scale": {"domain": [-14, -10], "nice": false, "zero": false}, "axis": null}}},
  {"transform": [{"filter": "datum.s == 'Box'"}], "mark": {"type": "line", "color": "black", "strokeWidth": 2},
   "encoding": {"x": {"field": "x", "type": "quantitative", "scale": {"domain": [-1, 21], "nice": false, "zero": false}, "axis": null}, "y": {"field": "y", "type": "quantitative", "scale": {"domain": [-14, -10], "nice": false, "zero": false}, "axis": null}}},
  {"mark": {"type": "text", "align": "right", "baseline": "middle", "color": "black", "text": "Big Box"},
   "encoding": {"x": {"datum": 14.3, "type": "quantitative", "scale": {"domain": [-1, 21], "nice": false, "zero": false}, "axis": null}, "y": {"datum": -10.41, "type": "quantitative", "scale": {"domain": [-14, -10], "nice": false, "zero": false}, "axis": null}}},
  {"mark": {"type": "rule", "color": "black", "strokeWidth": 1.6, "strokeDash": [1.5, 2.5]},
   "encoding": {"x": {"datum": 14.85, "type": "quantitative", "scale": {"domain": [-1, 21], "nice": false, "zero": false}, "axis": null}, "x2": {"datum": 19.4}, "y": {"datum": -10.44, "type": "quantitative", "scale": {"domain": [-14, -10], "nice": false, "zero": false}, "axis": null}}},
  {"mark": {"type": "text", "align": "left", "baseline": "middle", "color": "black", "text": "f = 1.0"},
   "encoding": {"x": {"datum": 0.93, "type": "quantitative", "scale": {"domain": [-1, 21], "nice": false, "zero": false}, "axis": null}, "y": {"datum": -13.44, "type": "quantitative", "scale": {"domain": [-14, -10], "nice": false, "zero": false}, "axis": null}}}
 ]},
{"width": 137, "height": 232, "data": {"name": "c"}, "transform": [{"filter": "datum.p == 'BR'"}],
 "resolve": {"axis": {"x": "independent", "y": "independent"}},
 "layer": [
  {"mark": {"type": "point", "opacity": 0}, "encoding": {
    "x": {"field": "x", "type": "quantitative", "scale": {"domain": [-1, 21], "nice": false, "zero": false}, "axis": {"orient": "bottom", "values": [0, 5, 10, 15, 20], "tickSize": -10, "labelPadding": 20, "format": "~g", "title": "time (orbits)", "titleY": 40, "titleBaseline": "middle"}},
    "y": {"field": "y", "type": "quantitative", "scale": {"domain": [-16, -5.14], "nice": false, "zero": false}, "axis": {"orient": "left", "values": [-16, -14, -12, -10, -8, -6], "tickSize": -10, "labels": false, "title": null}}}},
  {"mark": {"type": "point", "opacity": 0}, "encoding": {
    "x": {"field": "x", "type": "quantitative", "scale": {"domain": [-1, 21], "nice": false, "zero": false}, "axis": {"orient": "bottom", "values": [1, 2, 3, 4, 6, 7, 8, 9, 11, 12, 13, 14, 16, 17, 18, 19], "tickSize": -5, "tickWidth": 1.5, "labels": false, "title": null}},
    "y": {"field": "y", "type": "quantitative", "scale": {"domain": [-16, -5.14], "nice": false, "zero": false}, "axis": {"orient": "left", "values": [-15.5, -15, -14.5, -13.5, -13, -12.5, -11.5, -11, -10.5, -9.5, -9, -8.5, -7.5, -7, -6.5, -5.5], "tickSize": -5, "tickWidth": 1.5, "labels": false, "title": null}}}},
  {"mark": {"type": "point", "opacity": 0}, "encoding": {
    "x": {"field": "x", "type": "quantitative", "scale": {"domain": [-1, 21], "nice": false, "zero": false}, "axis": {"orient": "top", "values": [0, 5, 10, 15, 20], "tickSize": -10, "labels": false, "title": null}},
    "y": {"field": "y", "type": "quantitative", "scale": {"domain": [-16, -5.14], "nice": false, "zero": false}, "axis": {"orient": "right", "values": [-16, -14, -12, -10, -8, -6], "tickSize": -10, "labelPadding": 17, "format": "~g", "title": null}}}},
  {"mark": {"type": "point", "opacity": 0}, "encoding": {
    "x": {"field": "x", "type": "quantitative", "scale": {"domain": [-1, 21], "nice": false, "zero": false}, "axis": {"orient": "top", "values": [1, 2, 3, 4, 6, 7, 8, 9, 11, 12, 13, 14, 16, 17, 18, 19], "tickSize": -5, "tickWidth": 1.5, "labels": false, "title": null}},
    "y": {"field": "y", "type": "quantitative", "scale": {"domain": [-16, -5.14], "nice": false, "zero": false}, "axis": {"orient": "right", "values": [-15.5, -15, -14.5, -13.5, -13, -12.5, -11.5, -11, -10.5, -9.5, -9, -8.5, -7.5, -7, -6.5, -5.5], "tickSize": -5, "tickWidth": 1.5, "labels": false, "title": null}}}},
  {"transform": [{"filter": "datum.s == 'Box'"}], "mark": {"type": "line", "color": "black", "strokeWidth": 2},
   "encoding": {"x": {"field": "x", "type": "quantitative", "scale": {"domain": [-1, 21], "nice": false, "zero": false}, "axis": null}, "y": {"field": "y", "type": "quantitative", "scale": {"domain": [-16, -5.14], "nice": false, "zero": false}, "axis": null}}},
  {"mark": {"type": "text", "align": "left", "baseline": "middle", "color": "black", "text": "f = 1.04"},
   "encoding": {"x": {"datum": 0.77, "type": "quantitative", "scale": {"domain": [-1, 21], "nice": false, "zero": false}, "axis": null}, "y": {"datum": -6.28, "type": "quantitative", "scale": {"domain": [-16, -5.14], "nice": false, "zero": false}, "axis": null}}}
 ]}
]}
]
}
